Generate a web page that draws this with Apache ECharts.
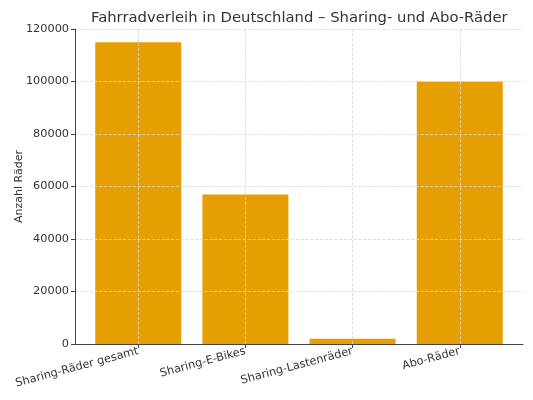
<!DOCTYPE html>
<html>
<head>
<meta charset="utf-8">
<script src="https://cdn.jsdelivr.net/npm/echarts@6/dist/echarts.min.js"></script>
<style>html,body{margin:0;padding:0;background:#fff}#c{width:533px;height:400px}</style>
</head>
<body>
<div id="c"></div>
<script>
const categories = ['Sharing-Räder gesamt', 'Sharing-E-Bikes', 'Sharing-Lastenräder', 'Abo-Räder'];
const values = [115000, 57000, 2000, 100000];
const yTicks = [0, 20000, 40000, 60000, 80000, 100000, 120000];

const positions = categories.map((c, i) => i);
const chart = echarts.init(document.getElementById('c'), null, {renderer: 'canvas'});
const font = 'DejaVu Sans';
chart.setOption({
  animation: false,
  title: {
    text: 'Fahrradverleih in Deutschland – Sharing- und Abo-Räder',
    left: 86, top: 6,
    textStyle: {fontFamily: font, fontSize: 14.8, fontWeight: 'normal', color: '#333'}
  },
  grid: {left: 75, right: 10, top: 29, bottom: 56, outerBoundsMode: 'none', containLabel: false},
  xAxis: {
    type: 'value', min: -0.59, max: 3.59, z: 6,
    axisLine: {show: true, onZero: false, lineStyle: {color: '#444', width: 1}},
    axisTick: {show: true, customValues: positions, length: 4, lineStyle: {color: '#444'}},
    axisLabel: {
      customValues: positions,
      formatter: v => categories[Math.round(v)],
      rotate: 15, fontFamily: font, fontSize: 11.3, color: '#333', margin: 7
    },
    splitLine: {show: false}
  },
  yAxis: {
    type: 'value', min: yTicks[0], max: yTicks[yTicks.length - 1], interval: yTicks[1] - yTicks[0],
    z: 5,
    name: 'Anzahl Räder', nameLocation: 'middle', nameGap: 50, nameRotate: 90, nameMoveOverlap: false,
    nameTextStyle: {fontFamily: font, fontSize: 11, color: '#333'},
    axisLine: {show: true, onZero: false, lineStyle: {color: '#444', width: 1}},
    axisTick: {show: true, length: 4, lineStyle: {color: '#444'}},
    axisLabel: {fontFamily: font, fontSize: 11.3, color: '#333', margin: 6, formatter: v => String(v)},
    splitLine: {show: true, lineStyle: {color: '#d8d8d8', type: 'dashed', width: 0.8}}
  },
  series: [{
    type: 'bar',
    barWidth: 86,
    data: values.map((v, i) => [positions[i], v]),
    itemStyle: {color: '#E69F00'},
    markLine: {
      silent: true, symbol: 'none', z: 4,
      label: {show: false},
      lineStyle: {color: '#d8d8d8', type: 'dashed', width: 0.8},
      data: positions.map(p => ({xAxis: p}))
    }
  }]
});
</script>
</body>
</html>
